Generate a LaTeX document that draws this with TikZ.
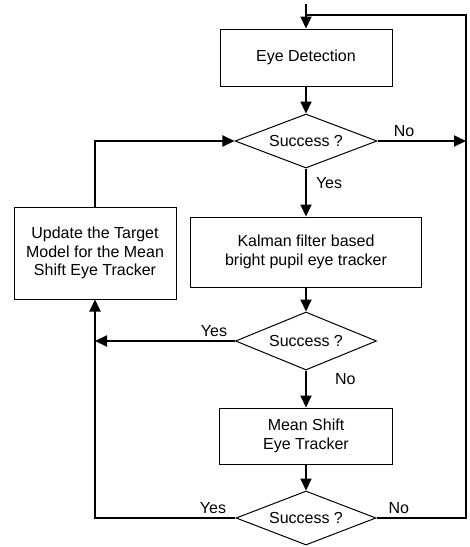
\documentclass[tikz,border=0pt]{standalone}
\usepackage{fontspec}
\setmainfont{Liberation Sans}
\usetikzlibrary{positioning, arrows.meta, shapes.geometric}

\begin{document}
\begin{tikzpicture}[
    % GLOBAL CFG
    x=0.5pt, y=-0.5pt,
    font=\fontsize{8}{9.25}\selectfont,
    >={Triangle[length=6pt,width=5.5pt]},
    % Styles
    block/.style={% For the process boxes
        rectangle,
        draw,
        line width=0.5pt,
        align=center,
        inner sep=2pt,
        },
    decision/.style={% For the Success ? tests
        diamond,
        aspect=2.6,
        draw,
        line width=0.5pt,
        inner sep=0pt,
        },
    mylabel/.style={% Yes and No on the branches
        inner sep=1.5pt,
        },
    ArrowA/.style={% All connectors
        line width=1pt,
        },
    ]

%Start drawing the thing...
    \useasboundingbox (0,0) rectangle (470,547);

    % Draw the process boxes
    \node [block, minimum width=86pt, minimum height=28.5pt] (eyedet) at (306,57.5) {Eye Detection};
    \node [block, minimum width=115.5pt, minimum height=35pt] (kalman) at (306,252) {Kalman filter based\\bright pupil eye tracker};
    \node [block, minimum width=81pt, minimum height=46pt] (update) at (95,253) {Update the Target\\Model for the Mean\\Shift Eye Tracker};
    \node [block, minimum width=86.5pt, minimum height=28pt] (meanshift) at (306,436) {Mean Shift\\Eye Tracker};

    % Draw the tests named test#
    \node [decision, minimum width=71pt, minimum height=27pt] (test1) at (306,141) {Success ?};
    \node [decision, minimum width=70.5pt, minimum height=29pt] (test2) at (306,341) {Success ?};
    \node [decision, minimum width=70pt, minimum height=27pt] (test3) at (306,518) {Success ?};

    % Loose ends
    \coordinate (in) at (306,4);
    \coordinate (rtop) at (466,15);

% Start connecting all.
    % Main line
    \draw [ArrowA,->] (in) -- (eyedet);
    \draw [ArrowA,->] (eyedet) -- (test1);
    \draw [ArrowA,->] (test1) -- (kalman) node[mylabel, pos=0.3, right=3pt] {Yes};
    \draw [ArrowA,->] (kalman) -- (test2);
    \draw [ArrowA,->] (test2) -- (meanshift) node[mylabel, pos=0.24, right=12.5pt] {No};
    \draw [ArrowA,->] (meanshift) -- (test3);

    % Failure loop on the right
    \draw [ArrowA,->] (test1) -- (test1 -| rtop) node[mylabel, pos=0.3, above] {No};
    \draw [ArrowA] (test3) -| (rtop) node[mylabel, pos=0.125, above] {No} -- (rtop -| eyedet);

    % Model update on the left
    \draw [ArrowA,->] (test2) -- (test2 -| update) node[mylabel, pos=0.15, above] {Yes};
    \draw [ArrowA,->] (test3) -| (update) node[mylabel, pos=0.08, above] {Yes};
    \draw [ArrowA,->] (update) |- (test1);

\end{tikzpicture}
\end{document}
